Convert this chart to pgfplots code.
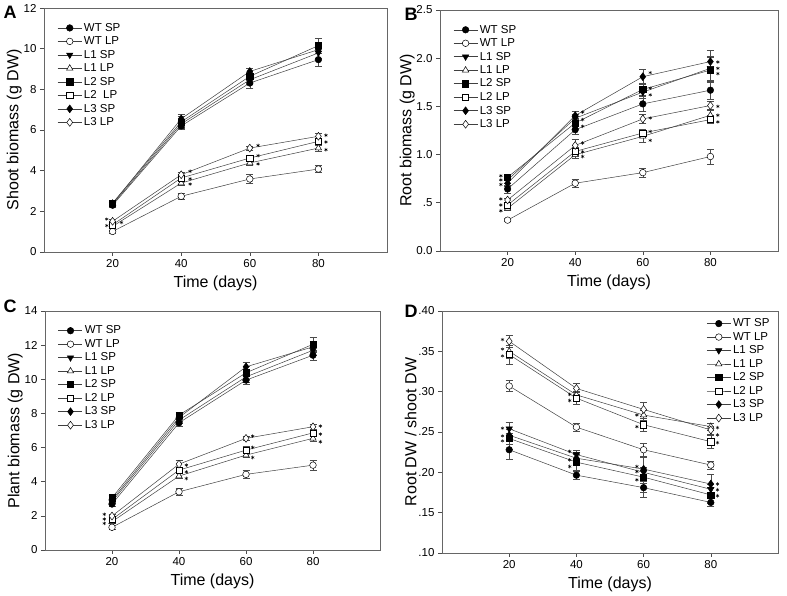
\documentclass[border=0pt]{standalone}
\usepackage{pgfplots}
\usepackage{pgfplotstable}
\pgfplotsset{compat=1.18}
\usepackage{fontspec}
\setmainfont{Liberation Sans}

\pgfplotstableread{
x wsp wspe wlp wlpe l1sp l1spe l1lp l1lpe l2sp l2spe l2lp l2lpe l3sp l3spe l3lp l3lpe
20 2.30 0.12 1.01 0.08 2.35 0.10 1.26 0.08 2.41 0.12 1.34 0.08 2.38 0.10 1.51 0.08
40 6.20 0.15 2.74 0.15 6.30 0.15 3.39 0.12 6.40 0.30 3.64 0.15 6.55 0.20 3.80 0.10
60 8.31 0.25 3.59 0.22 8.47 0.20 4.38 0.12 8.64 0.20 4.62 0.15 8.88 0.15 5.11 0.10
80 9.46 0.32 4.08 0.18 9.79 0.25 5.11 0.15 10.15 0.38 5.44 0.15 9.95 0.20 5.69 0.15
}\dataA

\pgfplotstableread{
x wsp wspe wlp wlpe l1sp l1spe l1lp l1lpe l2sp l2spe l2lp l2lpe l3sp l3spe l3lp l3lpe
20 0.643 0.04 0.320 0.015 0.737 0.03 0.442 0.02 0.765 0.03 0.477 0.03 0.703 0.03 0.529 0.02
40 1.258 0.05 0.703 0.04 1.377 0.04 0.998 0.04 1.328 0.05 1.033 0.04 1.405 0.04 1.095 0.06
60 1.526 0.08 0.813 0.05 1.648 0.06 1.189 0.06 1.676 0.06 1.224 0.04 1.808 0.08 1.370 0.05
80 1.668 0.09 0.980 0.08 1.895 0.12 1.408 0.05 1.877 0.13 1.363 0.04 1.965 0.12 1.509 0.04
}\dataB

\pgfplotstableread{
x wsp wspe wlp wlpe l1sp l1spe l1lp l1lpe l2sp l2spe l2lp l2lpe l3sp l3spe l3lp l3lpe
20 2.69 0.12 1.33 0.10 2.83 0.12 1.66 0.10 3.06 0.15 1.79 0.10 2.93 0.12 1.99 0.10
40 7.45 0.20 3.41 0.20 7.61 0.20 4.33 0.15 7.90 0.15 4.68 0.15 7.76 0.20 5.03 0.20
60 9.95 0.25 4.43 0.25 10.14 0.30 5.56 0.15 10.38 0.40 5.85 0.20 10.73 0.25 6.54 0.10
80 11.41 0.30 4.97 0.30 11.70 0.30 6.54 0.15 12.05 0.40 6.86 0.15 11.90 0.30 7.22 0.15
}\dataC

\pgfplotstableread{
x wsp wspe wlp wlpe l1sp l1spe l1lp l1lpe l2sp l2spe l2lp l2lpe l3sp l3spe l3lp l3lpe
20 0.2280 0.012 0.307 0.007 0.254 0.008 0.350 0.008 0.2420 0.007 0.346 0.012 0.2460 0.007 0.3625 0.007
40 0.1965 0.005 0.256 0.005 0.222 0.005 0.296 0.005 0.2126 0.010 0.292 0.007 0.2175 0.007 0.3040 0.007
60 0.1810 0.006 0.228 0.008 0.200 0.006 0.271 0.006 0.1940 0.025 0.259 0.008 0.2040 0.015 0.2780 0.009
80 0.1627 0.005 0.209 0.005 0.179 0.006 0.2567 0.004 0.1720 0.010 0.238 0.008 0.1855 0.012 0.2525 0.005
}\dataD

\pgfplotsset{
  ser/.style={black!75, line width=0.5pt,
    /pgfplots/error bars/y dir=both,
    /pgfplots/error bars/y explicit,
    /pgfplots/error bars/error bar style={black!70, line width=0.5pt},
    /pgfplots/error bars/error mark options={rotate=90, mark size=3.5pt, black!70, line width=0.5pt}},
  wsp/.style={mark=*, mark size=3.3pt, mark options={draw=black, fill=black, solid}},
  wlp/.style={mark=*, mark size=3.3pt, mark options={draw=black, fill=white, solid}},
  l1sp/.style={mark=triangle*, mark size=3.7pt, mark options={draw=black, fill=black, rotate=180, solid}},
  l1lp/.style={mark=triangle*, mark size=3.7pt, mark options={draw=black, fill=white, solid}},
  l2sp/.style={mark=square*, mark size=3.1pt, mark options={draw=black, fill=black, solid}},
  l2lp/.style={mark=square*, mark size=3.1pt, mark options={draw=black, fill=white, solid}},
  l3sp/.style={mark=diamond*, mark size=3.9pt, mark options={draw=black, fill=black, solid}},
  l3lp/.style={mark=diamond*, mark size=3.9pt, mark options={draw=black, fill=white, solid}},
  star/.style={only marks, mark=asterisk, mark size=1.8pt, black, line width=0.45pt, forget plot},
  panel/.style={
    scale only axis,
    xmin=0, xmax=100,
    xtick={20,40,60,80},
    tick align=outside,
    xtick pos=bottom, ytick pos=left,
    major tick length=4pt,
    axis line style={black!60, line width=0.6pt},
    tick style={black!70, line width=0.6pt},
    tick label style={font=\fontsize{11.5}{13}\selectfont},
    label style={font=\fontsize{16}{19}\selectfont},
    /pgf/number format/assume math mode=true,
    xlabel={Time (days)},
    xlabel style={yshift=-1pt},
    ylabel style={yshift=-5pt},
    legend cell align=left,
    legend style={draw=none, fill=none, font=\fontsize{11.5}{13}\selectfont, row sep=0pt},
    legend image code/.code={\draw[mark repeat=2, mark phase=2, ##1] plot coordinates {(0pt,0pt) (12pt,0pt) (24pt,0pt)};},
  }
}

\newcommand\eightplots[1]{%
  \addplot[ser, wsp] table[x=x, y=wsp, y error=wspe]{#1};
  \addplot[ser, wlp] table[x=x, y=wlp, y error=wlpe]{#1};
  \addplot[ser, l1sp] table[x=x, y=l1sp, y error=l1spe]{#1};
  \addplot[ser, l1lp] table[x=x, y=l1lp, y error=l1lpe]{#1};
  \addplot[ser, l2sp] table[x=x, y=l2sp, y error=l2spe]{#1};
  \addplot[ser, l2lp] table[x=x, y=l2lp, y error=l2lpe]{#1};
  \addplot[ser, l3sp] table[x=x, y=l3sp, y error=l3spe]{#1};
  \addplot[ser, l3lp] table[x=x, y=l3lp, y error=l3lpe]{#1};
}

\begin{document}
\begin{tikzpicture}
\useasboundingbox (0,0) rectangle (787pt,596pt);

% Panel A
\begin{axis}[panel, at={(44pt,344pt)}, anchor=south west, width=343pt, height=244pt,
  ymin=0, ymax=12, ytick={0,2,4,6,8,10,12},
  ylabel={Shoot biomass (g DW)},
  legend style={at={(0.03,0.955)}, anchor=north west},
  legend entries={WT SP, WT LP, L1 SP, L1 LP, L2 SP, L2\ \ LP, L3 SP, L3 LP}]
\eightplots{\dataA}
\addplot[star] coordinates {(18.3,1.62) (18.3,1.30) (22.6,1.45)
  (42.6,3.97) (42.6,3.60) (42.6,3.34)
  (62.4,5.24) (62.4,4.74) (62.4,4.33)
  (82.2,5.74) (82.2,5.41) (82.2,5.03)};
\end{axis}

% Panel B
\begin{axis}[panel, at={(440pt,345pt)}, anchor=south west, width=338pt, height=241pt,
  ymin=0, ymax=2.5, ytick={0,0.5,1,1.5,2,2.5},
  yticklabels={0.0,.5,1.0,1.5,2.0,2.5},
  ylabel={Root biomass (g DW)},
  legend style={at={(0.03,0.955)}, anchor=north west},
  legend entries={WT SP, WT LP, L1 SP, L1 LP, L2 SP, L2 LP, L3 SP, L3 LP}]
\eightplots{\dataB}
\addplot[star] coordinates {(18.0,0.78) (18.0,0.737) (18.0,0.69) (18.0,0.54) (18.0,0.477) (18.0,0.417)
  (42.2,1.44) (42.2,1.363) (42.2,1.293) (42.2,1.12) (42.2,1.03) (42.2,0.98)
  (62.2,1.85) (62.2,1.69) (62.2,1.62) (62.2,1.38) (62.2,1.24) (62.2,1.147)
  (82.2,1.96) (82.2,1.895) (82.2,1.84) (82.2,1.50) (82.2,1.408) (82.2,1.339)};
\end{axis}

% Panel C
\begin{axis}[panel, at={(45pt,46pt)}, anchor=south west, width=335pt, height=239pt,
  ymin=0, ymax=14, ytick={0,2,4,6,8,10,12,14},
  ylabel={Plant biomass (g DW)},
  legend style={at={(0.03,0.955)}, anchor=north west},
  legend entries={WT SP, WT LP, L1 SP, L1 LP, L2 SP, L2 LP, L3 SP, L3 LP}]
\eightplots{\dataC}
\addplot[star] coordinates {(17.7,2.09) (17.7,1.81) (17.7,1.56)
  (42.2,4.97) (42.2,4.58) (42.2,4.19)
  (62.0,6.67) (62.0,6.01) (62.0,5.42)
  (82.2,7.26) (82.2,6.79) (82.2,6.34)};
\end{axis}

% Panel D
\begin{axis}[panel, at={(442pt,43pt)}, anchor=south west, width=336pt, height=242pt,
  ymin=0.1, ymax=0.4, ytick={0.10,0.15,0.20,0.25,0.30,0.35,0.40},
  yticklabels={.10,.15,.20,.25,.30,.35,.40},
  ylabel={Root DW / shoot DW},
  legend style={at={(0.99,0.985)}, anchor=north east},
  legend entries={WT SP, WT LP, L1 SP, L1 LP, L2 SP, L2 LP, L3 SP, L3 LP}]
\eightplots{\dataD}
\addplot[star] coordinates {(18.0,0.3646) (18.0,0.3527) (18.0,0.3444) (18.0,0.2546) (18.0,0.2451) (18.0,0.2390)
  (38.0,0.2966) (38.0,0.2890) (38.0,0.2260) (38.0,0.2155) (38.0,0.2072)
  (58.0,0.2710) (58.0,0.2566) (58.0,0.2072) (58.0,0.2010) (58.0,0.1907)
  (82.0,0.2554) (82.0,0.2464) (82.0,0.2368) (82.0,0.1855) (82.0,0.1784) (82.0,0.1710)};
\end{axis}

% panel letters
\node[font=\bfseries\fontsize{18}{20}\selectfont] at (10pt,584pt) {A};
\node[font=\bfseries\fontsize{18}{20}\selectfont] at (411pt,582pt) {B};
\node[font=\bfseries\fontsize{18}{20}\selectfont] at (10pt,290pt) {C};
\node[font=\bfseries\fontsize{18}{20}\selectfont] at (411pt,285pt) {D};
\end{tikzpicture}
\end{document}
